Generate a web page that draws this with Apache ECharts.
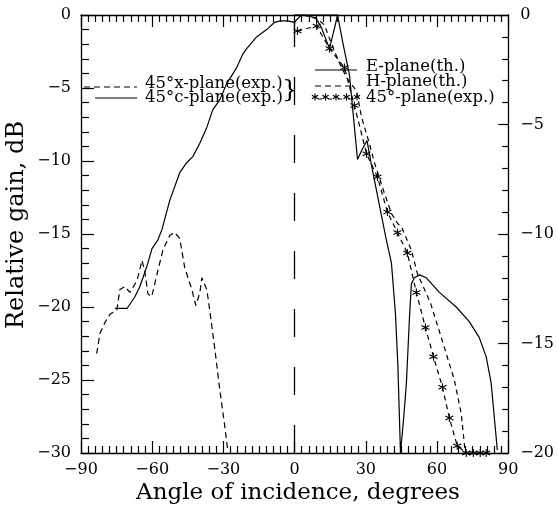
<!DOCTYPE html>
<html><head><meta charset="utf-8">
<script src="https://cdn.jsdelivr.net/npm/echarts@6/dist/echarts.min.js"></script>
<style>html,body{margin:0;padding:0;background:#fff}#c{width:557px;height:511px}</style>
</head><body><div id="c"></div>
<script>
// ---- tick values / labels ----
const xTickValues = [-90, -60, -30, 0, 30, 60, 90];
const xTickLabels = ['\u221290', '\u221260', '\u221230', '0', '30', '60', '90'];
const yLeftTickValues = [-30, -25, -20, -15, -10, -5, 0];
const yLeftTickLabels = ['\u221230', '\u221225', '\u221220', '\u221215', '\u221210', '\u22125', '0'];
const yRightTickValues = [-20, -15, -10, -5, 0];
const yRightTickLabels = ['\u221220', '\u221215', '\u221210', '\u22125', '0'];

// ---- 45°x-plane (exp.) dashed ----
const xPlaneAngle = [-83.4,-82.0,-79.7,-77.8,-74.9,-73.6,-71.5,-69.4,-66.4,-64.3,-63.1,-61.8,-60.2,-57.6,-55.5,-52.6,-50.5,-48.4,-46.3,-43.3,-41.6,-39.9,-39.1,-37.0,-35.7,-33.6,-31.5,-29.4,-28.2];
const xPlaneGain  = [-23.2,-21.8,-21.0,-20.5,-20.2,-18.8,-18.6,-19.0,-18.2,-16.8,-17.6,-19.1,-19.3,-17.5,-16.1,-15.1,-14.9,-15.3,-17.3,-18.8,-19.9,-19.0,-18.0,-18.8,-20.3,-22.9,-25.7,-28.2,-29.8];

// ---- 45°c-plane (exp.) solid ----
const cPlaneAngle = [-75.7,-70.6,-67.3,-65.2,-62.2,-60.1,-57.6,-55.9,-52.6,-48.4,-45.4,-42.9,-40.0,-37.0,-34.5,-31.5,-28.6,-24.4,-21.9,-20.2,-16.0,-11.8,-8.4,-6.0,-3.0,0.0,1.0,2.5,4.0,6.5,9.0,11.4,13.5,14.7,16.5,18.1];
const cPlaneGain  = [-20.1,-20.1,-19.3,-18.6,-17.2,-16.0,-15.4,-14.7,-12.7,-10.8,-10.1,-9.7,-8.8,-7.7,-6.5,-5.8,-4.7,-3.6,-2.7,-2.3,-1.5,-1.0,-0.5,-0.4,-0.4,-0.5,-0.3,-0.05,0,-0.1,-0.2,-0.9,-1.8,-2.3,-1.1,0];

// ---- E-plane (th.) solid ----
const ePlaneAngle = [0,10,17,18.1,20.2,23.1,26.5,28.5,30.5,32.4,35.7,38.5,40.8,42.5,43.5,44.6,46.0,47.1,48.4,49.2,50.5,52.6,55.5,61.0,68.1,73.6,77.8,80.7,82.8,84.1,85.4];
const ePlaneGain  = [0,0,0,0,-1.8,-4.1,-9.9,-9.2,-8.6,-10.3,-13.0,-15.3,-17.0,-20.5,-24.0,-30,-27.5,-25.2,-20.7,-18.4,-18.0,-17.8,-18.0,-19.0,-20.0,-21.0,-22.1,-23.4,-25.2,-27.5,-29.8];

// ---- H-plane (th.) dashed ----
const hPlaneAngle = [0,5,10,12.6,15.6,18.9,21.9,26.1,28.2,31.5,33.6,37.8,40.8,43.5,45.0,49.2,51.7,57.2,62.2,67.3,70.2,71.9];
const hPlaneGain  = [0,-0.05,-0.3,-0.7,-2.0,-3.3,-4.3,-5.2,-7.0,-8.8,-10.1,-12.2,-13.6,-14.3,-14.5,-16.1,-17.7,-19.7,-22.3,-25.0,-27.3,-30];

// ---- 45°-plane (exp.) stars ----
const p45Angle = [1.2,9.3,14.7,21.0,25.2,30.3,34.9,39.1,43.3,47.5,51.3,55.1,58.5,62.3,65.2,68.5,72.3,75.3,78.2,80.7];
const p45Gain  = [-1.1,-0.75,-2.3,-3.6,-6.2,-9.5,-11.1,-13.5,-14.9,-16.3,-19.0,-21.4,-23.4,-25.5,-27.6,-29.5,-30,-30,-30,-30];

// ---- legend texts ----
const legendLeft = ['45\u00b0x-plane(exp.)', '45\u00b0c-plane(exp.)'];
const legendRight = ['E-plane(th.)', 'H-plane(th.)', '45\u00b0-plane(exp.)'];
const xName = 'Angle of incidence, degrees';
const yName = 'Relative gain, dB';

const zip = (a, b) => a.map((v, i) => [v, b[i]]);
const FONT = '"DejaVu Serif", serif';
const BLACK = '#000';
const STAR = 'path://M5 0L5 10M0.67 2.5L9.33 7.5M0.67 7.5L9.33 2.5';

function lbl(values, labels) { return v => { const i = values.indexOf(v); return i >= 0 ? labels[i] : ''; }; }

function xAx(pos, showLabel) {
  return {
    type: 'value', position: pos, min: -90, max: 90, interval: 30,
    axisLine: { show: true, onZero: false, lineStyle: { color: BLACK, width: 1.3 } },
    axisTick: { show: true, inside: true, length: 12, lineStyle: { color: BLACK, width: 1.2 } },
    minorTick: { show: true, splitNumber: 10, length: 7, lineStyle: { color: BLACK, width: 1.2 } },
    splitLine: { show: false }, minorSplitLine: { show: false },
    axisLabel: { show: showLabel, margin: 9, color: BLACK, fontFamily: FONT, fontSize: 16, formatter: lbl(xTickValues, xTickLabels) }
  };
}
function yAx(pos, min, tl, ml, vals, labs) {
  return {
    type: 'value', position: pos, min: min, max: 0, interval: 5,
    axisLine: { show: true, onZero: false, lineStyle: { color: BLACK, width: 1.3 } },
    axisTick: { show: true, inside: true, length: tl, lineStyle: { color: BLACK, width: 1.2 } },
    minorTick: { show: true, splitNumber: 5, length: ml, lineStyle: { color: BLACK, width: 1.2 } },
    splitLine: { show: false }, minorSplitLine: { show: false },
    axisLabel: { show: true, margin: pos === 'left' ? 10 : 12, color: BLACK, fontFamily: FONT, fontSize: 16, formatter: lbl(vals, labs) }
  };
}
function lineSeries(name, data, dash, extra) {
  return Object.assign({
    name: name, type: 'line', data: data, xAxisIndex: 0, yAxisIndex: 0,
    symbol: 'none', clip: false, smooth: false, animation: false,
    lineStyle: { color: BLACK, width: 1.2, type: dash || 'solid' },
    itemStyle: { color: BLACK }
  }, extra || {});
}

const LF = '16.5px ' + FONT;
const graphics = [];
// left legend group
graphics.push({ type: 'line', shape: { x1: 84, y1: 87, x2: 137, y2: 87 }, style: { stroke: BLACK, lineWidth: 1.2, lineDash: [6, 4] } });
graphics.push({ type: 'line', shape: { x1: 95, y1: 98, x2: 137, y2: 98 }, style: { stroke: BLACK, lineWidth: 1.2 } });
graphics.push({ type: 'text', x: 145, y: 84, style: { text: legendLeft[0], font: LF, fill: BLACK, align: 'left', verticalAlign: 'middle' } });
graphics.push({ type: 'text', x: 145, y: 98, style: { text: legendLeft[1], font: LF, fill: BLACK, align: 'left', verticalAlign: 'middle' } });
graphics.push({ type: 'text', x: 290, y: 90, style: { text: '}', font: '25px ' + FONT, fill: BLACK, align: 'center', verticalAlign: 'middle' } });
// right legend group
graphics.push({ type: 'line', shape: { x1: 315, y1: 70, x2: 357, y2: 70 }, style: { stroke: BLACK, lineWidth: 1.2 } });
graphics.push({ type: 'line', shape: { x1: 315, y1: 86, x2: 352, y2: 86 }, style: { stroke: BLACK, lineWidth: 1.2, lineDash: [6, 4] } });
graphics.push({ type: 'line', shape: { x1: 315, y1: 99, x2: 356, y2: 99 }, style: { stroke: BLACK, lineWidth: 1.2, lineDash: [4, 6], lineDashOffset: -3 } });
[315, 325.5, 336, 346.5, 357].forEach(cx => {
  const cy = 97, r = 3.6;
  [[0, 1], [0.866, 0.5], [0.866, -0.5]].forEach(d => {
    graphics.push({ type: 'line', shape: { x1: cx - d[0] * r, y1: cy - d[1] * r, x2: cx + d[0] * r, y2: cy + d[1] * r }, style: { stroke: BLACK, lineWidth: 1.1 } });
  });
});
graphics.push({ type: 'text', x: 366, y: 67, style: { text: legendRight[0], font: LF, fill: BLACK, align: 'left', verticalAlign: 'middle' } });
graphics.push({ type: 'text', x: 366, y: 82, style: { text: legendRight[1], font: LF, fill: BLACK, align: 'left', verticalAlign: 'middle' } });
graphics.push({ type: 'text', x: 366, y: 98, style: { text: legendRight[2], font: LF, fill: BLACK, align: 'left', verticalAlign: 'middle' } });
// axis names
graphics.push({ type: 'text', x: 298, y: 493, style: { text: xName, font: '23px ' + FONT, fill: BLACK, align: 'center', verticalAlign: 'middle' } });
graphics.push({ type: 'text', x: 17, y: 225, rotation: Math.PI / 2, style: { text: yName, font: '24px ' + FONT, fill: BLACK, align: 'center', verticalAlign: 'middle' } });

const chart = echarts.init(document.getElementById('c'), null, { renderer: 'canvas' });
chart.setOption({
  animation: false,
  backgroundColor: '#fff',
  textStyle: { fontFamily: FONT },
  grid: { left: 81, right: 48, top: 15, bottom: 58, containLabel: false },
  xAxis: [xAx('bottom', true), xAx('top', false)],
  yAxis: [yAx('left', -30, 13, 8, yLeftTickValues, yLeftTickLabels), yAx('right', -20, 10, 6, yRightTickValues, yRightTickLabels)],
  series: [
    lineSeries(legendLeft[0], zip(xPlaneAngle, xPlaneGain), [6, 4]),
    lineSeries(legendLeft[1], zip(cPlaneAngle, cPlaneGain), 'solid', {
      markLine: { silent: true, symbol: ['none', 'none'], label: { show: false }, animation: false,
        lineStyle: { color: BLACK, width: 1.3, type: [28, 30] }, data: [{ xAxis: 0 }] }
    }),
    lineSeries(legendRight[0], zip(ePlaneAngle, ePlaneGain), 'solid'),
    lineSeries(legendRight[1], zip(hPlaneAngle, hPlaneGain), [5, 4]),
    lineSeries(legendRight[2], zip(p45Angle, p45Gain), [5, 4], {
      symbol: STAR, symbolSize: 8, showSymbol: true, showAllSymbol: true,
      itemStyle: { color: 'none', borderColor: BLACK, borderWidth: 1.1 }
    })
  ],
  graphic: graphics
});
</script>
</body></html>
